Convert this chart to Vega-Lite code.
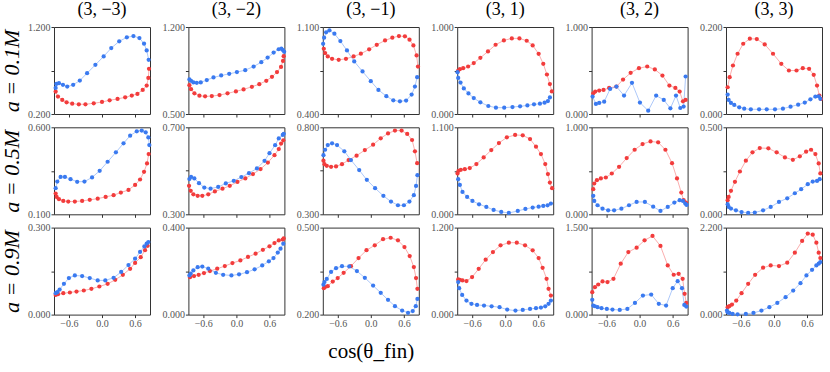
{
"$schema":"https://vega.github.io/schema/vega-lite/v6.json",
"padding":{"left":0,"top":0,"right":0,"bottom":0},
"background":"white",
"config":{
 "font":"Liberation Serif",
 "view":{"stroke":"#333","strokeWidth":1},
 "axis":{"grid":false,"domain":false,"tickColor":"#333","tickSize":3,"tickWidth":1,"labelFont":"Liberation Serif","labelFontSize":10,"labelColor":"#555","labelPadding":1,"labelOverlap":false,"titleFont":"Liberation Serif","titleFontSize":22,"titleFontWeight":"normal","titleFontStyle":"italic","titleColor":"#000","titlePadding":4},
 "title":{"font":"Liberation Serif","fontSize":18,"fontWeight":"normal","color":"#000","offset":3}
},
"data":{"values":[
{"p":"00","s":"r","x":-0.84,"y":0.458},{"p":"00","s":"r","x":-0.798,"y":0.4},{"p":"00","s":"r","x":-0.72,"y":0.362},{"p":"00","s":"r","x":-0.642,"y":0.335},{"p":"00","s":"r","x":-0.54,"y":0.319},{"p":"00","s":"r","x":-0.42,"y":0.312},{"p":"00","s":"r","x":-0.3,"y":0.312},{"p":"00","s":"r","x":-0.15,"y":0.323},{"p":"00","s":"r","x":0,"y":0.338},{"p":"00","s":"r","x":0.138,"y":0.358},{"p":"00","s":"r","x":0.282,"y":0.373},{"p":"00","s":"r","x":0.42,"y":0.392},{"p":"00","s":"r","x":0.54,"y":0.412},{"p":"00","s":"r","x":0.642,"y":0.431},{"p":"00","s":"r","x":0.738,"y":0.477},{"p":"00","s":"r","x":0.81,"y":0.527},{"p":"00","s":"r","x":0.84,"y":0.615},{"p":"00","s":"r","x":0.852,"y":0.719},
{"p":"00","s":"b","x":-0.84,"y":0.5},{"p":"00","s":"b","x":-0.828,"y":0.546},{"p":"00","s":"b","x":-0.78,"y":0.554},{"p":"00","s":"b","x":-0.708,"y":0.535},{"p":"00","s":"b","x":-0.63,"y":0.515},{"p":"00","s":"b","x":-0.522,"y":0.535},{"p":"00","s":"b","x":-0.402,"y":0.585},{"p":"00","s":"b","x":-0.27,"y":0.669},{"p":"00","s":"b","x":-0.12,"y":0.765},{"p":"00","s":"b","x":0.03,"y":0.862},{"p":"00","s":"b","x":0.168,"y":0.958},{"p":"00","s":"b","x":0.312,"y":1.035},{"p":"00","s":"b","x":0.45,"y":1.081},{"p":"00","s":"b","x":0.57,"y":1.096},{"p":"00","s":"b","x":0.678,"y":1.073},{"p":"00","s":"b","x":0.762,"y":1.008},{"p":"00","s":"b","x":0.81,"y":0.931},{"p":"00","s":"b","x":0.846,"y":0.823},
{"p":"01","s":"r","x":-0.852,"y":0.732},{"p":"01","s":"r","x":-0.822,"y":0.7},{"p":"01","s":"r","x":-0.761,"y":0.666},{"p":"01","s":"r","x":-0.67,"y":0.647},{"p":"01","s":"r","x":-0.567,"y":0.642},{"p":"01","s":"r","x":-0.446,"y":0.644},{"p":"01","s":"r","x":-0.306,"y":0.652},{"p":"01","s":"r","x":-0.161,"y":0.666},{"p":"01","s":"r","x":-0.009,"y":0.682},{"p":"01","s":"r","x":0.13,"y":0.698},{"p":"01","s":"r","x":0.281,"y":0.719},{"p":"01","s":"r","x":0.415,"y":0.74},{"p":"01","s":"r","x":0.542,"y":0.767},{"p":"01","s":"r","x":0.645,"y":0.799},{"p":"01","s":"r","x":0.736,"y":0.837},{"p":"01","s":"r","x":0.809,"y":0.879},{"p":"01","s":"r","x":0.845,"y":0.927},{"p":"01","s":"r","x":0.857,"y":0.965},
{"p":"01","s":"b","x":-0.852,"y":0.778},{"p":"01","s":"b","x":-0.822,"y":0.767},{"p":"01","s":"b","x":-0.779,"y":0.754},{"p":"01","s":"b","x":-0.718,"y":0.751},{"p":"01","s":"b","x":-0.646,"y":0.754},{"p":"01","s":"b","x":-0.537,"y":0.773},{"p":"01","s":"b","x":-0.415,"y":0.794},{"p":"01","s":"b","x":-0.276,"y":0.81},{"p":"01","s":"b","x":-0.13,"y":0.823},{"p":"01","s":"b","x":0.009,"y":0.837},{"p":"01","s":"b","x":0.16,"y":0.853},{"p":"01","s":"b","x":0.312,"y":0.882},{"p":"01","s":"b","x":0.451,"y":0.917},{"p":"01","s":"b","x":0.566,"y":0.954},{"p":"01","s":"b","x":0.675,"y":0.994},{"p":"01","s":"b","x":0.766,"y":1.021},{"p":"01","s":"b","x":0.815,"y":1.026},{"p":"01","s":"b","x":0.845,"y":1.013},{"p":"01","s":"b","x":0.866,"y":1.0},
{"p":"02","s":"r","x":-0.852,"y":0.925},{"p":"02","s":"r","x":-0.828,"y":0.89},{"p":"02","s":"r","x":-0.78,"y":0.863},{"p":"02","s":"r","x":-0.702,"y":0.844},{"p":"02","s":"r","x":-0.582,"y":0.836},{"p":"02","s":"r","x":-0.45,"y":0.844},{"p":"02","s":"r","x":-0.312,"y":0.863},{"p":"02","s":"r","x":-0.18,"y":0.885},{"p":"02","s":"r","x":-0.03,"y":0.92},{"p":"02","s":"r","x":0.108,"y":0.957},{"p":"02","s":"r","x":0.258,"y":0.992},{"p":"02","s":"r","x":0.39,"y":1.014},{"p":"02","s":"r","x":0.51,"y":1.027},{"p":"02","s":"r","x":0.618,"y":1.025},{"p":"02","s":"r","x":0.702,"y":0.998},{"p":"02","s":"r","x":0.772,"y":0.952},{"p":"02","s":"r","x":0.83,"y":0.871},{"p":"02","s":"r","x":0.855,"y":0.782},
{"p":"02","s":"b","x":-0.864,"y":0.965},{"p":"02","s":"b","x":-0.846,"y":1.014},{"p":"02","s":"b","x":-0.81,"y":1.057},{"p":"02","s":"b","x":-0.75,"y":1.073},{"p":"02","s":"b","x":-0.66,"y":1.046},{"p":"02","s":"b","x":-0.552,"y":0.987},{"p":"02","s":"b","x":-0.432,"y":0.911},{"p":"02","s":"b","x":-0.3,"y":0.823},{"p":"02","s":"b","x":-0.15,"y":0.742},{"p":"02","s":"b","x":0,"y":0.664},{"p":"02","s":"b","x":0.138,"y":0.594},{"p":"02","s":"b","x":0.282,"y":0.543},{"p":"02","s":"b","x":0.408,"y":0.51},{"p":"02","s":"b","x":0.528,"y":0.502},{"p":"02","s":"b","x":0.64,"y":0.508},{"p":"02","s":"b","x":0.74,"y":0.556},{"p":"02","s":"b","x":0.8,"y":0.621},{"p":"02","s":"b","x":0.84,"y":0.696},
{"p":"03","s":"r","x":-0.852,"y":0.5},{"p":"03","s":"r","x":-0.822,"y":0.515},{"p":"03","s":"r","x":-0.762,"y":0.527},{"p":"03","s":"r","x":-0.672,"y":0.546},{"p":"03","s":"r","x":-0.57,"y":0.585},{"p":"03","s":"r","x":-0.45,"y":0.646},{"p":"03","s":"r","x":-0.312,"y":0.719},{"p":"03","s":"r","x":-0.174,"y":0.796},{"p":"03","s":"r","x":-0.024,"y":0.846},{"p":"03","s":"r","x":0.12,"y":0.869},{"p":"03","s":"r","x":0.258,"y":0.869},{"p":"03","s":"r","x":0.39,"y":0.842},{"p":"03","s":"r","x":0.498,"y":0.788},{"p":"03","s":"r","x":0.606,"y":0.692},{"p":"03","s":"r","x":0.69,"y":0.577},{"p":"03","s":"r","x":0.756,"y":0.454},{"p":"03","s":"r","x":0.81,"y":0.344},{"p":"03","s":"r","x":0.846,"y":0.26},
{"p":"03","s":"b","x":-0.864,"y":0.48},{"p":"03","s":"b","x":-0.852,"y":0.415},{"p":"03","s":"b","x":-0.81,"y":0.362},{"p":"03","s":"b","x":-0.75,"y":0.294},{"p":"03","s":"b","x":-0.666,"y":0.237},{"p":"03","s":"b","x":-0.57,"y":0.183},{"p":"03","s":"b","x":-0.45,"y":0.134},{"p":"03","s":"b","x":-0.306,"y":0.092},{"p":"03","s":"b","x":-0.168,"y":0.073},{"p":"03","s":"b","x":-0.018,"y":0.073},{"p":"03","s":"b","x":0.132,"y":0.08},{"p":"03","s":"b","x":0.27,"y":0.088},{"p":"03","s":"b","x":0.402,"y":0.099},{"p":"03","s":"b","x":0.522,"y":0.111},{"p":"03","s":"b","x":0.63,"y":0.118},{"p":"03","s":"b","x":0.714,"y":0.13},{"p":"03","s":"b","x":0.774,"y":0.149},{"p":"03","s":"b","x":0.81,"y":0.19},
{"p":"04","s":"r","x":-0.84,"y":0.238},{"p":"04","s":"r","x":-0.804,"y":0.258},{"p":"04","s":"r","x":-0.732,"y":0.269},{"p":"04","s":"r","x":-0.654,"y":0.277},{"p":"04","s":"r","x":-0.552,"y":0.3},{"p":"04","s":"r","x":-0.42,"y":0.315},{"p":"04","s":"r","x":-0.3,"y":0.396},{"p":"04","s":"r","x":-0.162,"y":0.473},{"p":"04","s":"r","x":-0.012,"y":0.527},{"p":"04","s":"r","x":0.138,"y":0.546},{"p":"04","s":"r","x":0.276,"y":0.512},{"p":"04","s":"r","x":0.414,"y":0.442},{"p":"04","s":"r","x":0.54,"y":0.327},{"p":"04","s":"r","x":0.648,"y":0.3},{"p":"04","s":"r","x":0.726,"y":0.258},{"p":"04","s":"r","x":0.786,"y":0.146},{"p":"04","s":"r","x":0.834,"y":0.162},
{"p":"04","s":"b","x":-0.852,"y":0.2},{"p":"04","s":"b","x":-0.792,"y":0.115},{"p":"04","s":"b","x":-0.732,"y":0.127},{"p":"04","s":"b","x":-0.642,"y":0.142},{"p":"04","s":"b","x":-0.534,"y":0.288},{"p":"04","s":"b","x":-0.42,"y":0.315},{"p":"04","s":"b","x":-0.282,"y":0.212},{"p":"04","s":"b","x":-0.138,"y":0.358},{"p":"04","s":"b","x":0.006,"y":0.131},{"p":"04","s":"b","x":0.156,"y":0.038},{"p":"04","s":"b","x":0.3,"y":0.212},{"p":"04","s":"b","x":0.438,"y":0.162},{"p":"04","s":"b","x":0.558,"y":0.065},{"p":"04","s":"b","x":0.66,"y":0.212},{"p":"04","s":"b","x":0.738,"y":0.069},{"p":"04","s":"b","x":0.798,"y":0.085},{"p":"04","s":"b","x":0.834,"y":0.431},
{"p":"05","s":"r","x":-0.84,"y":0.0615},{"p":"05","s":"r","x":-0.804,"y":0.0846},{"p":"05","s":"r","x":-0.744,"y":0.1115},{"p":"05","s":"r","x":-0.66,"y":0.1385},{"p":"05","s":"r","x":-0.558,"y":0.1615},{"p":"05","s":"r","x":-0.438,"y":0.1731},{"p":"05","s":"r","x":-0.312,"y":0.1723},{"p":"05","s":"r","x":-0.168,"y":0.16},{"p":"05","s":"r","x":-0.018,"y":0.1385},{"p":"05","s":"r","x":0.132,"y":0.1154},{"p":"05","s":"r","x":0.27,"y":0.1},{"p":"05","s":"r","x":0.408,"y":0.1},{"p":"05","s":"r","x":0.522,"y":0.1054},{"p":"05","s":"r","x":0.636,"y":0.1038},{"p":"05","s":"r","x":0.72,"y":0.09},{"p":"05","s":"r","x":0.78,"y":0.0654},{"p":"05","s":"r","x":0.822,"y":0.0423},{"p":"05","s":"r","x":0.852,"y":0.0346},
{"p":"05","s":"b","x":-0.84,"y":0.0446},{"p":"05","s":"b","x":-0.822,"y":0.0323},{"p":"05","s":"b","x":-0.78,"y":0.0254},{"p":"05","s":"b","x":-0.72,"y":0.0208},{"p":"05","s":"b","x":-0.63,"y":0.0154},{"p":"05","s":"b","x":-0.54,"y":0.0123},{"p":"05","s":"b","x":-0.42,"y":0.0108},{"p":"05","s":"b","x":-0.27,"y":0.0108},{"p":"05","s":"b","x":-0.132,"y":0.0108},{"p":"05","s":"b","x":0.018,"y":0.0108},{"p":"05","s":"b","x":0.162,"y":0.0123},{"p":"05","s":"b","x":0.3,"y":0.0169},{"p":"05","s":"b","x":0.438,"y":0.0215},{"p":"05","s":"b","x":0.558,"y":0.0262},{"p":"05","s":"b","x":0.66,"y":0.0338},{"p":"05","s":"b","x":0.75,"y":0.04},{"p":"05","s":"b","x":0.81,"y":0.0408},{"p":"05","s":"b","x":0.84,"y":0.035},
{"p":"10","s":"r","x":-0.84,"y":0.219},{"p":"10","s":"r","x":-0.822,"y":0.2},{"p":"10","s":"r","x":-0.78,"y":0.187},{"p":"10","s":"r","x":-0.702,"y":0.177},{"p":"10","s":"r","x":-0.612,"y":0.173},{"p":"10","s":"r","x":-0.492,"y":0.173},{"p":"10","s":"r","x":-0.36,"y":0.177},{"p":"10","s":"r","x":-0.222,"y":0.183},{"p":"10","s":"r","x":-0.078,"y":0.19},{"p":"10","s":"r","x":0.066,"y":0.2},{"p":"10","s":"r","x":0.21,"y":0.21},{"p":"10","s":"r","x":0.342,"y":0.225},{"p":"10","s":"r","x":0.48,"y":0.24},{"p":"10","s":"r","x":0.6,"y":0.269},{"p":"10","s":"r","x":0.69,"y":0.3},{"p":"10","s":"r","x":0.762,"y":0.344},{"p":"10","s":"r","x":0.816,"y":0.392},{"p":"10","s":"r","x":0.846,"y":0.446},
{"p":"10","s":"b","x":-0.84,"y":0.25},{"p":"10","s":"b","x":-0.81,"y":0.288},{"p":"10","s":"b","x":-0.75,"y":0.315},{"p":"10","s":"b","x":-0.672,"y":0.315},{"p":"10","s":"b","x":-0.57,"y":0.302},{"p":"10","s":"b","x":-0.45,"y":0.287},{"p":"10","s":"b","x":-0.318,"y":0.288},{"p":"10","s":"b","x":-0.18,"y":0.312},{"p":"10","s":"b","x":-0.042,"y":0.35},{"p":"10","s":"b","x":0.102,"y":0.402},{"p":"10","s":"b","x":0.252,"y":0.456},{"p":"10","s":"b","x":0.39,"y":0.508},{"p":"10","s":"b","x":0.51,"y":0.552},{"p":"10","s":"b","x":0.63,"y":0.577},{"p":"10","s":"b","x":0.72,"y":0.581},{"p":"10","s":"b","x":0.792,"y":0.571},{"p":"10","s":"b","x":0.84,"y":0.542},{"p":"10","s":"b","x":0.858,"y":0.498},
{"p":"11","s":"r","x":-0.858,"y":0.431},{"p":"11","s":"r","x":-0.828,"y":0.408},{"p":"11","s":"r","x":-0.78,"y":0.392},{"p":"11","s":"r","x":-0.702,"y":0.385},{"p":"11","s":"r","x":-0.618,"y":0.385},{"p":"11","s":"r","x":-0.51,"y":0.392},{"p":"11","s":"r","x":-0.39,"y":0.405},{"p":"11","s":"r","x":-0.252,"y":0.418},{"p":"11","s":"r","x":-0.12,"y":0.431},{"p":"11","s":"r","x":0.018,"y":0.449},{"p":"11","s":"r","x":0.162,"y":0.465},{"p":"11","s":"r","x":0.3,"y":0.485},{"p":"11","s":"r","x":0.438,"y":0.508},{"p":"11","s":"r","x":0.57,"y":0.538},{"p":"11","s":"r","x":0.69,"y":0.572},{"p":"11","s":"r","x":0.768,"y":0.6},{"p":"11","s":"r","x":0.81,"y":0.625},{"p":"11","s":"r","x":0.85,"y":0.64},
{"p":"11","s":"b","x":-0.852,"y":0.462},{"p":"11","s":"b","x":-0.822,"y":0.472},{"p":"11","s":"b","x":-0.762,"y":0.465},{"p":"11","s":"b","x":-0.678,"y":0.443},{"p":"11","s":"b","x":-0.582,"y":0.423},{"p":"11","s":"b","x":-0.468,"y":0.418},{"p":"11","s":"b","x":-0.33,"y":0.426},{"p":"11","s":"b","x":-0.192,"y":0.442},{"p":"11","s":"b","x":-0.048,"y":0.454},{"p":"11","s":"b","x":0.09,"y":0.471},{"p":"11","s":"b","x":0.228,"y":0.489},{"p":"11","s":"b","x":0.372,"y":0.511},{"p":"11","s":"b","x":0.51,"y":0.546},{"p":"11","s":"b","x":0.6,"y":0.581},{"p":"11","s":"b","x":0.702,"y":0.618},{"p":"11","s":"b","x":0.768,"y":0.649},{"p":"11","s":"b","x":0.84,"y":0.665},{"p":"11","s":"b","x":0.858,"y":0.67},
{"p":"12","s":"r","x":-0.858,"y":0.608},{"p":"12","s":"r","x":-0.84,"y":0.588},{"p":"12","s":"r","x":-0.798,"y":0.579},{"p":"12","s":"r","x":-0.72,"y":0.573},{"p":"12","s":"r","x":-0.63,"y":0.575},{"p":"12","s":"r","x":-0.522,"y":0.588},{"p":"12","s":"r","x":-0.402,"y":0.612},{"p":"12","s":"r","x":-0.258,"y":0.637},{"p":"12","s":"r","x":-0.108,"y":0.669},{"p":"12","s":"r","x":0.042,"y":0.7},{"p":"12","s":"r","x":0.18,"y":0.737},{"p":"12","s":"r","x":0.312,"y":0.765},{"p":"12","s":"r","x":0.438,"y":0.781},{"p":"12","s":"r","x":0.558,"y":0.781},{"p":"12","s":"r","x":0.66,"y":0.762},{"p":"12","s":"r","x":0.748,"y":0.727},{"p":"12","s":"r","x":0.8,"y":0.662},{"p":"12","s":"r","x":0.84,"y":0.594},
{"p":"12","s":"b","x":-0.858,"y":0.64},{"p":"12","s":"b","x":-0.828,"y":0.671},{"p":"12","s":"b","x":-0.78,"y":0.698},{"p":"12","s":"b","x":-0.702,"y":0.708},{"p":"12","s":"b","x":-0.612,"y":0.698},{"p":"12","s":"b","x":-0.48,"y":0.662},{"p":"12","s":"b","x":-0.36,"y":0.612},{"p":"12","s":"b","x":-0.21,"y":0.554},{"p":"12","s":"b","x":-0.072,"y":0.498},{"p":"12","s":"b","x":0.078,"y":0.45},{"p":"12","s":"b","x":0.228,"y":0.406},{"p":"12","s":"b","x":0.366,"y":0.373},{"p":"12","s":"b","x":0.492,"y":0.352},{"p":"12","s":"b","x":0.6,"y":0.352},{"p":"12","s":"b","x":0.7,"y":0.373},{"p":"12","s":"b","x":0.78,"y":0.41},{"p":"12","s":"b","x":0.82,"y":0.463},{"p":"12","s":"b","x":0.845,"y":0.525},
{"p":"13","s":"r","x":-0.864,"y":0.516},{"p":"13","s":"r","x":-0.846,"y":0.55},{"p":"13","s":"r","x":-0.804,"y":0.563},{"p":"13","s":"r","x":-0.732,"y":0.571},{"p":"13","s":"r","x":-0.642,"y":0.584},{"p":"13","s":"r","x":-0.522,"y":0.635},{"p":"13","s":"r","x":-0.39,"y":0.719},{"p":"13","s":"r","x":-0.252,"y":0.812},{"p":"13","s":"r","x":-0.114,"y":0.901},{"p":"13","s":"r","x":0.03,"y":0.973},{"p":"13","s":"r","x":0.18,"y":1.003},{"p":"13","s":"r","x":0.318,"y":0.999},{"p":"13","s":"r","x":0.45,"y":0.952},{"p":"13","s":"r","x":0.558,"y":0.855},{"p":"13","s":"r","x":0.648,"y":0.762},{"p":"13","s":"r","x":0.726,"y":0.635},{"p":"13","s":"r","x":0.774,"y":0.508},{"p":"13","s":"r","x":0.81,"y":0.402},{"p":"13","s":"r","x":0.85,"y":0.33},
{"p":"13","s":"b","x":-0.852,"y":0.444},{"p":"13","s":"b","x":-0.822,"y":0.372},{"p":"13","s":"b","x":-0.774,"y":0.283},{"p":"13","s":"b","x":-0.69,"y":0.22},{"p":"13","s":"b","x":-0.594,"y":0.169},{"p":"13","s":"b","x":-0.474,"y":0.127},{"p":"13","s":"b","x":-0.342,"y":0.093},{"p":"13","s":"b","x":-0.21,"y":0.055},{"p":"13","s":"b","x":-0.072,"y":0.03},{"p":"13","s":"b","x":0.066,"y":0.017},{"p":"13","s":"b","x":0.228,"y":0.042},{"p":"13","s":"b","x":0.366,"y":0.068},{"p":"13","s":"b","x":0.498,"y":0.085},{"p":"13","s":"b","x":0.606,"y":0.097},{"p":"13","s":"b","x":0.69,"y":0.106},{"p":"13","s":"b","x":0.768,"y":0.114},{"p":"13","s":"b","x":0.828,"y":0.135},
{"p":"14","s":"r","x":-0.84,"y":0.288},{"p":"14","s":"r","x":-0.822,"y":0.354},{"p":"14","s":"r","x":-0.774,"y":0.392},{"p":"14","s":"r","x":-0.702,"y":0.412},{"p":"14","s":"r","x":-0.612,"y":0.423},{"p":"14","s":"r","x":-0.504,"y":0.469},{"p":"14","s":"r","x":-0.372,"y":0.546},{"p":"14","s":"r","x":-0.234,"y":0.646},{"p":"14","s":"r","x":-0.09,"y":0.742},{"p":"14","s":"r","x":0.054,"y":0.808},{"p":"14","s":"r","x":0.198,"y":0.838},{"p":"14","s":"r","x":0.336,"y":0.827},{"p":"14","s":"r","x":0.468,"y":0.742},{"p":"14","s":"r","x":0.588,"y":0.588},{"p":"14","s":"r","x":0.678,"y":0.412},{"p":"14","s":"r","x":0.756,"y":0.25},{"p":"14","s":"r","x":0.798,"y":0.162},{"p":"14","s":"r","x":0.84,"y":0.135},
{"p":"14","s":"b","x":-0.84,"y":0.212},{"p":"14","s":"b","x":-0.822,"y":0.154},{"p":"14","s":"b","x":-0.762,"y":0.104},{"p":"14","s":"b","x":-0.672,"y":0.065},{"p":"14","s":"b","x":-0.57,"y":0.046},{"p":"14","s":"b","x":-0.462,"y":0.046},{"p":"14","s":"b","x":-0.33,"y":0.065},{"p":"14","s":"b","x":-0.192,"y":0.104},{"p":"14","s":"b","x":-0.054,"y":0.142},{"p":"14","s":"b","x":0.096,"y":0.142},{"p":"14","s":"b","x":0.246,"y":0.088},{"p":"14","s":"b","x":0.378,"y":0.038},{"p":"14","s":"b","x":0.51,"y":0.085},{"p":"14","s":"b","x":0.63,"y":0.135},{"p":"14","s":"b","x":0.726,"y":0.162},{"p":"14","s":"b","x":0.786,"y":0.154},{"p":"14","s":"b","x":0.828,"y":0.123},{"p":"14","s":"b","x":0.852,"y":0.108},
{"p":"15","s":"r","x":-0.84,"y":0.081},{"p":"15","s":"r","x":-0.822,"y":0.1},{"p":"15","s":"r","x":-0.78,"y":0.135},{"p":"15","s":"r","x":-0.708,"y":0.187},{"p":"15","s":"r","x":-0.618,"y":0.246},{"p":"15","s":"r","x":-0.51,"y":0.308},{"p":"15","s":"r","x":-0.39,"y":0.356},{"p":"15","s":"r","x":-0.258,"y":0.381},{"p":"15","s":"r","x":-0.102,"y":0.379},{"p":"15","s":"r","x":0.048,"y":0.356},{"p":"15","s":"r","x":0.198,"y":0.327},{"p":"15","s":"r","x":0.342,"y":0.313},{"p":"15","s":"r","x":0.468,"y":0.333},{"p":"15","s":"r","x":0.582,"y":0.36},{"p":"15","s":"r","x":0.672,"y":0.371},{"p":"15","s":"r","x":0.75,"y":0.346},{"p":"15","s":"r","x":0.81,"y":0.292},{"p":"15","s":"r","x":0.84,"y":0.235},
{"p":"15","s":"b","x":-0.84,"y":0.058},{"p":"15","s":"b","x":-0.822,"y":0.042},{"p":"15","s":"b","x":-0.78,"y":0.033},{"p":"15","s":"b","x":-0.69,"y":0.023},{"p":"15","s":"b","x":-0.588,"y":0.013},{"p":"15","s":"b","x":-0.468,"y":0.008},{"p":"15","s":"b","x":-0.348,"y":0.01},{"p":"15","s":"b","x":-0.198,"y":0.023},{"p":"15","s":"b","x":-0.06,"y":0.042},{"p":"15","s":"b","x":0.09,"y":0.071},{"p":"15","s":"b","x":0.24,"y":0.092},{"p":"15","s":"b","x":0.378,"y":0.121},{"p":"15","s":"b","x":0.492,"y":0.144},{"p":"15","s":"b","x":0.612,"y":0.173},{"p":"15","s":"b","x":0.702,"y":0.188},{"p":"15","s":"b","x":0.78,"y":0.192},{"p":"15","s":"b","x":0.828,"y":0.202},
{"p":"20","s":"r","x":-0.84,"y":0.068},{"p":"20","s":"r","x":-0.798,"y":0.0704},{"p":"20","s":"r","x":-0.702,"y":0.0738},{"p":"20","s":"r","x":-0.582,"y":0.0762},{"p":"20","s":"r","x":-0.462,"y":0.0796},{"p":"20","s":"r","x":-0.33,"y":0.0831},{"p":"20","s":"r","x":-0.192,"y":0.0888},{"p":"20","s":"r","x":-0.048,"y":0.0969},{"p":"20","s":"r","x":0.102,"y":0.106},{"p":"20","s":"r","x":0.24,"y":0.12},{"p":"20","s":"r","x":0.378,"y":0.137},{"p":"20","s":"r","x":0.51,"y":0.158},{"p":"20","s":"r","x":0.6,"y":0.178},{"p":"20","s":"r","x":0.702,"y":0.198},{"p":"20","s":"r","x":0.78,"y":0.222},{"p":"20","s":"r","x":0.828,"y":0.237},
{"p":"20","s":"b","x":-0.84,"y":0.0738},{"p":"20","s":"b","x":-0.81,"y":0.0773},{"p":"20","s":"b","x":-0.768,"y":0.0865},{"p":"20","s":"b","x":-0.69,"y":0.106},{"p":"20","s":"b","x":-0.6,"y":0.126},{"p":"20","s":"b","x":-0.492,"y":0.135},{"p":"20","s":"b","x":-0.36,"y":0.133},{"p":"20","s":"b","x":-0.222,"y":0.126},{"p":"20","s":"b","x":-0.078,"y":0.118},{"p":"20","s":"b","x":0.06,"y":0.118},{"p":"20","s":"b","x":0.21,"y":0.127},{"p":"20","s":"b","x":0.348,"y":0.147},{"p":"20","s":"b","x":0.48,"y":0.171},{"p":"20","s":"b","x":0.6,"y":0.193},{"p":"20","s":"b","x":0.69,"y":0.216},{"p":"20","s":"b","x":0.768,"y":0.235},{"p":"20","s":"b","x":0.81,"y":0.245},{"p":"20","s":"b","x":0.84,"y":0.25},
{"p":"21","s":"r","x":-0.84,"y":0.172},{"p":"21","s":"r","x":-0.768,"y":0.177},{"p":"21","s":"r","x":-0.684,"y":0.183},{"p":"21","s":"r","x":-0.588,"y":0.191},{"p":"21","s":"r","x":-0.48,"y":0.2},{"p":"21","s":"r","x":-0.348,"y":0.211},{"p":"21","s":"r","x":-0.21,"y":0.223},{"p":"21","s":"r","x":-0.072,"y":0.237},{"p":"21","s":"r","x":0.072,"y":0.249},{"p":"21","s":"r","x":0.21,"y":0.265},{"p":"21","s":"r","x":0.348,"y":0.28},{"p":"21","s":"r","x":0.48,"y":0.298},{"p":"21","s":"r","x":0.6,"y":0.314},{"p":"21","s":"r","x":0.69,"y":0.329},{"p":"21","s":"r","x":0.768,"y":0.341},{"p":"21","s":"r","x":0.84,"y":0.345},{"p":"21","s":"r","x":0.858,"y":0.35},
{"p":"21","s":"b","x":-0.852,"y":0.18},{"p":"21","s":"b","x":-0.828,"y":0.188},{"p":"21","s":"b","x":-0.78,"y":0.203},{"p":"21","s":"b","x":-0.702,"y":0.218},{"p":"21","s":"b","x":-0.618,"y":0.221},{"p":"21","s":"b","x":-0.51,"y":0.211},{"p":"21","s":"b","x":-0.372,"y":0.192},{"p":"21","s":"b","x":-0.24,"y":0.183},{"p":"21","s":"b","x":-0.09,"y":0.18},{"p":"21","s":"b","x":0.048,"y":0.185},{"p":"21","s":"b","x":0.192,"y":0.195},{"p":"21","s":"b","x":0.33,"y":0.208},{"p":"21","s":"b","x":0.468,"y":0.226},{"p":"21","s":"b","x":0.588,"y":0.245},{"p":"21","s":"b","x":0.672,"y":0.26},{"p":"21","s":"b","x":0.75,"y":0.285},{"p":"21","s":"b","x":0.8,"y":0.303},{"p":"21","s":"b","x":0.85,"y":0.326},
{"p":"22","s":"r","x":-0.852,"y":0.291},{"p":"22","s":"r","x":-0.828,"y":0.295},{"p":"22","s":"r","x":-0.78,"y":0.298},{"p":"22","s":"r","x":-0.69,"y":0.314},{"p":"22","s":"r","x":-0.6,"y":0.326},{"p":"22","s":"r","x":-0.492,"y":0.344},{"p":"22","s":"r","x":-0.36,"y":0.367},{"p":"22","s":"r","x":-0.222,"y":0.395},{"p":"22","s":"r","x":-0.078,"y":0.422},{"p":"22","s":"r","x":0.072,"y":0.439},{"p":"22","s":"r","x":0.222,"y":0.46},{"p":"22","s":"r","x":0.36,"y":0.465},{"p":"22","s":"r","x":0.492,"y":0.456},{"p":"22","s":"r","x":0.61,"y":0.433},{"p":"22","s":"r","x":0.705,"y":0.402},{"p":"22","s":"r","x":0.78,"y":0.364},{"p":"22","s":"r","x":0.82,"y":0.326},{"p":"22","s":"r","x":0.845,"y":0.289},
{"p":"22","s":"b","x":-0.858,"y":0.303},{"p":"22","s":"b","x":-0.84,"y":0.312},{"p":"22","s":"b","x":-0.798,"y":0.323},{"p":"22","s":"b","x":-0.72,"y":0.347},{"p":"22","s":"b","x":-0.63,"y":0.36},{"p":"22","s":"b","x":-0.522,"y":0.367},{"p":"22","s":"b","x":-0.39,"y":0.366},{"p":"22","s":"b","x":-0.252,"y":0.35},{"p":"22","s":"b","x":-0.108,"y":0.327},{"p":"22","s":"b","x":0.042,"y":0.3},{"p":"22","s":"b","x":0.18,"y":0.275},{"p":"22","s":"b","x":0.312,"y":0.251},{"p":"22","s":"b","x":0.438,"y":0.229},{"p":"22","s":"b","x":0.568,"y":0.214},{"p":"22","s":"b","x":0.675,"y":0.206},{"p":"22","s":"b","x":0.76,"y":0.212},{"p":"22","s":"b","x":0.815,"y":0.229},{"p":"22","s":"b","x":0.845,"y":0.254},
{"p":"23","s":"r","x":-0.852,"y":0.485},{"p":"23","s":"r","x":-0.822,"y":0.48},{"p":"23","s":"r","x":-0.774,"y":0.471},{"p":"23","s":"r","x":-0.702,"y":0.462},{"p":"23","s":"r","x":-0.6,"y":0.517},{"p":"23","s":"r","x":-0.48,"y":0.632},{"p":"23","s":"r","x":-0.354,"y":0.757},{"p":"23","s":"r","x":-0.222,"y":0.863},{"p":"23","s":"r","x":-0.084,"y":0.955},{"p":"23","s":"r","x":0.066,"y":0.992},{"p":"23","s":"r","x":0.21,"y":0.992},{"p":"23","s":"r","x":0.36,"y":0.955},{"p":"23","s":"r","x":0.498,"y":0.886},{"p":"23","s":"r","x":0.606,"y":0.78},{"p":"23","s":"r","x":0.678,"y":0.646},{"p":"23","s":"r","x":0.75,"y":0.494},{"p":"23","s":"r","x":0.786,"y":0.355},{"p":"23","s":"r","x":0.828,"y":0.263},
{"p":"23","s":"b","x":-0.852,"y":0.448},{"p":"23","s":"b","x":-0.834,"y":0.365},{"p":"23","s":"b","x":-0.78,"y":0.272},{"p":"23","s":"b","x":-0.702,"y":0.194},{"p":"23","s":"b","x":-0.612,"y":0.148},{"p":"23","s":"b","x":-0.51,"y":0.134},{"p":"23","s":"b","x":-0.384,"y":0.125},{"p":"23","s":"b","x":-0.246,"y":0.115},{"p":"23","s":"b","x":-0.102,"y":0.102},{"p":"23","s":"b","x":0.036,"y":0.069},{"p":"23","s":"b","x":0.186,"y":0.055},{"p":"23","s":"b","x":0.318,"y":0.065},{"p":"23","s":"b","x":0.45,"y":0.078},{"p":"23","s":"b","x":0.558,"y":0.088},{"p":"23","s":"b","x":0.648,"y":0.097},{"p":"23","s":"b","x":0.726,"y":0.115},{"p":"23","s":"b","x":0.786,"y":0.148},{"p":"23","s":"b","x":0.828,"y":0.194},
{"p":"24","s":"r","x":-0.858,"y":0.387},{"p":"24","s":"r","x":-0.81,"y":0.473},{"p":"24","s":"r","x":-0.75,"y":0.519},{"p":"24","s":"r","x":-0.672,"y":0.571},{"p":"24","s":"r","x":-0.582,"y":0.56},{"p":"24","s":"r","x":-0.474,"y":0.617},{"p":"24","s":"r","x":-0.342,"y":0.877},{"p":"24","s":"r","x":-0.204,"y":1.079},{"p":"24","s":"r","x":-0.054,"y":1.154},{"p":"24","s":"r","x":0.09,"y":1.281},{"p":"24","s":"r","x":0.234,"y":1.356},{"p":"24","s":"r","x":0.378,"y":1.183},{"p":"24","s":"r","x":0.51,"y":0.848},{"p":"24","s":"r","x":0.618,"y":0.687},{"p":"24","s":"r","x":0.708,"y":0.704},{"p":"24","s":"r","x":0.78,"y":0.617},{"p":"24","s":"r","x":0.816,"y":0.358},{"p":"24","s":"r","x":0.846,"y":0.202},
{"p":"24","s":"b","x":-0.858,"y":0.254},{"p":"24","s":"b","x":-0.84,"y":0.156},{"p":"24","s":"b","x":-0.81,"y":0.144},{"p":"24","s":"b","x":-0.762,"y":0.127},{"p":"24","s":"b","x":-0.69,"y":0.11},{"p":"24","s":"b","x":-0.594,"y":0.098},{"p":"24","s":"b","x":-0.492,"y":0.087},{"p":"24","s":"b","x":-0.36,"y":0.081},{"p":"24","s":"b","x":-0.222,"y":0.098},{"p":"24","s":"b","x":-0.084,"y":0.202},{"p":"24","s":"b","x":0.06,"y":0.329},{"p":"24","s":"b","x":0.21,"y":0.346},{"p":"24","s":"b","x":0.348,"y":0.185},{"p":"24","s":"b","x":0.48,"y":0.156},{"p":"24","s":"b","x":0.6,"y":0.456},{"p":"24","s":"b","x":0.69,"y":0.577},{"p":"24","s":"b","x":0.768,"y":0.456},{"p":"24","s":"b","x":0.81,"y":0.167},{"p":"24","s":"b","x":0.846,"y":0.138},
{"p":"25","s":"r","x":-0.84,"y":0.186},{"p":"25","s":"r","x":-0.81,"y":0.212},{"p":"25","s":"r","x":-0.762,"y":0.254},{"p":"25","s":"r","x":-0.684,"y":0.355},{"p":"25","s":"r","x":-0.588,"y":0.542},{"p":"25","s":"r","x":-0.468,"y":0.778},{"p":"25","s":"r","x":-0.342,"y":1.007},{"p":"25","s":"r","x":-0.198,"y":1.185},{"p":"25","s":"r","x":-0.06,"y":1.244},{"p":"25","s":"r","x":0.09,"y":1.227},{"p":"25","s":"r","x":0.24,"y":1.312},{"p":"25","s":"r","x":0.378,"y":1.565},{"p":"25","s":"r","x":0.51,"y":1.862},{"p":"25","s":"r","x":0.612,"y":2.048},{"p":"25","s":"r","x":0.702,"y":2.022},{"p":"25","s":"r","x":0.768,"y":1.819},{"p":"25","s":"r","x":0.81,"y":1.565},{"p":"25","s":"r","x":0.84,"y":1.43},
{"p":"25","s":"b","x":-0.852,"y":0.102},{"p":"25","s":"b","x":-0.84,"y":0.059},{"p":"25","s":"b","x":-0.81,"y":0.042},{"p":"25","s":"b","x":-0.75,"y":0.017},{"p":"25","s":"b","x":-0.66,"y":0.008},{"p":"25","s":"b","x":-0.51,"y":0.017},{"p":"25","s":"b","x":-0.372,"y":0.042},{"p":"25","s":"b","x":-0.228,"y":0.102},{"p":"25","s":"b","x":-0.084,"y":0.186},{"p":"25","s":"b","x":0.06,"y":0.296},{"p":"25","s":"b","x":0.21,"y":0.44},{"p":"25","s":"b","x":0.348,"y":0.609},{"p":"25","s":"b","x":0.48,"y":0.795},{"p":"25","s":"b","x":0.588,"y":0.99},{"p":"25","s":"b","x":0.69,"y":1.134},{"p":"25","s":"b","x":0.768,"y":1.244},{"p":"25","s":"b","x":0.81,"y":1.286},{"p":"25","s":"b","x":0.84,"y":1.329}
]},
"columns":6,
"spacing":{"row":13.3,"column":38.4},
"bounds":"flush",
"concat":[
 {"width":96,"height":87,"title":"(3, −3)","transform":[{"filter":"datum.p=='00'"}],"encoding":{"x":{"field":"x","type":"quantitative","scale":{"domain":[-0.87,0.87],"nice":false,"zero":false},"axis":{"values":[-0.6,0,0.6],"labels":false,"title":null}},"y":{"field":"y","type":"quantitative","scale":{"domain":[0.2,1.2],"nice":false,"zero":false},"axis":{"values":[0.2,0.7,1.2],"format":".3f","labelExpr":"datum.index==0.5?'':datum.label","title":"a = 0.1M"}},"color":{"field":"s","type":"nominal","scale":{"domain":["r","b"],"range":["#f23c3c","#3a7af0"]},"legend":null}},"layer":[{"mark":{"type":"line","strokeWidth":0.7,"opacity":0.6}},{"mark":{"type":"circle","size":18,"opacity":1}}]},
 {"width":96,"height":87,"title":"(3, −2)","transform":[{"filter":"datum.p=='01'"}],"encoding":{"x":{"field":"x","type":"quantitative","scale":{"domain":[-0.87,0.87],"nice":false,"zero":false},"axis":{"values":[-0.6,0,0.6],"labels":false,"title":null}},"y":{"field":"y","type":"quantitative","scale":{"domain":[0.5,1.2],"nice":false,"zero":false},"axis":{"values":[0.5,0.85,1.2],"format":".3f","labelExpr":"datum.index==0.5?'':datum.label","title":null}},"color":{"field":"s","type":"nominal","scale":{"domain":["r","b"],"range":["#f23c3c","#3a7af0"]},"legend":null}},"layer":[{"mark":{"type":"line","strokeWidth":0.7,"opacity":0.6}},{"mark":{"type":"circle","size":18,"opacity":1}}]},
 {"width":96,"height":87,"title":"(3, −1)","transform":[{"filter":"datum.p=='02'"}],"encoding":{"x":{"field":"x","type":"quantitative","scale":{"domain":[-0.87,0.87],"nice":false,"zero":false},"axis":{"values":[-0.6,0,0.6],"labels":false,"title":null}},"y":{"field":"y","type":"quantitative","scale":{"domain":[0.4,1.1],"nice":false,"zero":false},"axis":{"values":[0.4,0.75,1.1],"format":".3f","labelExpr":"datum.index==0.5?'':datum.label","title":null}},"color":{"field":"s","type":"nominal","scale":{"domain":["r","b"],"range":["#f23c3c","#3a7af0"]},"legend":null}},"layer":[{"mark":{"type":"line","strokeWidth":0.7,"opacity":0.6}},{"mark":{"type":"circle","size":18,"opacity":1}}]},
 {"width":96,"height":87,"title":"(3, 1)","transform":[{"filter":"datum.p=='03'"}],"encoding":{"x":{"field":"x","type":"quantitative","scale":{"domain":[-0.87,0.87],"nice":false,"zero":false},"axis":{"values":[-0.6,0,0.6],"labels":false,"title":null}},"y":{"field":"y","type":"quantitative","scale":{"domain":[0,1],"nice":false,"zero":false},"axis":{"values":[0,0.5,1],"format":".3f","labelExpr":"datum.index==0.5?'':datum.label","title":null}},"color":{"field":"s","type":"nominal","scale":{"domain":["r","b"],"range":["#f23c3c","#3a7af0"]},"legend":null}},"layer":[{"mark":{"type":"line","strokeWidth":0.7,"opacity":0.6}},{"mark":{"type":"circle","size":18,"opacity":1}}]},
 {"width":96,"height":87,"title":"(3, 2)","transform":[{"filter":"datum.p=='04'"}],"encoding":{"x":{"field":"x","type":"quantitative","scale":{"domain":[-0.87,0.87],"nice":false,"zero":false},"axis":{"values":[-0.6,0,0.6],"labels":false,"title":null}},"y":{"field":"y","type":"quantitative","scale":{"domain":[0,1],"nice":false,"zero":false},"axis":{"values":[0,0.5,1],"format":".3f","labelExpr":"datum.index==0.5?'':datum.label","title":null}},"color":{"field":"s","type":"nominal","scale":{"domain":["r","b"],"range":["#f23c3c","#3a7af0"]},"legend":null}},"layer":[{"mark":{"type":"line","strokeWidth":0.7,"opacity":0.6}},{"mark":{"type":"circle","size":18,"opacity":1}}]},
 {"width":96,"height":87,"title":"(3, 3)","transform":[{"filter":"datum.p=='05'"}],"encoding":{"x":{"field":"x","type":"quantitative","scale":{"domain":[-0.87,0.87],"nice":false,"zero":false},"axis":{"values":[-0.6,0,0.6],"labels":false,"title":null}},"y":{"field":"y","type":"quantitative","scale":{"domain":[0,0.2],"nice":false,"zero":false},"axis":{"values":[0,0.1,0.2],"format":".3f","labelExpr":"datum.index==0.5?'':datum.label","title":null}},"color":{"field":"s","type":"nominal","scale":{"domain":["r","b"],"range":["#f23c3c","#3a7af0"]},"legend":null}},"layer":[{"mark":{"type":"line","strokeWidth":0.7,"opacity":0.6}},{"mark":{"type":"circle","size":18,"opacity":1}}]},
 {"width":96,"height":87,"transform":[{"filter":"datum.p=='10'"}],"encoding":{"x":{"field":"x","type":"quantitative","scale":{"domain":[-0.87,0.87],"nice":false,"zero":false},"axis":{"values":[-0.6,0,0.6],"labels":false,"title":null}},"y":{"field":"y","type":"quantitative","scale":{"domain":[0.1,0.6],"nice":false,"zero":false},"axis":{"values":[0.1,0.35,0.6],"format":".3f","labelExpr":"datum.index==0.5?'':datum.label","title":"a = 0.5M"}},"color":{"field":"s","type":"nominal","scale":{"domain":["r","b"],"range":["#f23c3c","#3a7af0"]},"legend":null}},"layer":[{"mark":{"type":"line","strokeWidth":0.7,"opacity":0.6}},{"mark":{"type":"circle","size":18,"opacity":1}}]},
 {"width":96,"height":87,"transform":[{"filter":"datum.p=='11'"}],"encoding":{"x":{"field":"x","type":"quantitative","scale":{"domain":[-0.87,0.87],"nice":false,"zero":false},"axis":{"values":[-0.6,0,0.6],"labels":false,"title":null}},"y":{"field":"y","type":"quantitative","scale":{"domain":[0.3,0.7],"nice":false,"zero":false},"axis":{"values":[0.3,0.5,0.7],"format":".3f","labelExpr":"datum.index==0.5?'':datum.label","title":null}},"color":{"field":"s","type":"nominal","scale":{"domain":["r","b"],"range":["#f23c3c","#3a7af0"]},"legend":null}},"layer":[{"mark":{"type":"line","strokeWidth":0.7,"opacity":0.6}},{"mark":{"type":"circle","size":18,"opacity":1}}]},
 {"width":96,"height":87,"transform":[{"filter":"datum.p=='12'"}],"encoding":{"x":{"field":"x","type":"quantitative","scale":{"domain":[-0.87,0.87],"nice":false,"zero":false},"axis":{"values":[-0.6,0,0.6],"labels":false,"title":null}},"y":{"field":"y","type":"quantitative","scale":{"domain":[0.3,0.8],"nice":false,"zero":false},"axis":{"values":[0.3,0.55,0.8],"format":".3f","labelExpr":"datum.index==0.5?'':datum.label","title":null}},"color":{"field":"s","type":"nominal","scale":{"domain":["r","b"],"range":["#f23c3c","#3a7af0"]},"legend":null}},"layer":[{"mark":{"type":"line","strokeWidth":0.7,"opacity":0.6}},{"mark":{"type":"circle","size":18,"opacity":1}}]},
 {"width":96,"height":87,"transform":[{"filter":"datum.p=='13'"}],"encoding":{"x":{"field":"x","type":"quantitative","scale":{"domain":[-0.87,0.87],"nice":false,"zero":false},"axis":{"values":[-0.6,0,0.6],"labels":false,"title":null}},"y":{"field":"y","type":"quantitative","scale":{"domain":[0,1.1],"nice":false,"zero":false},"axis":{"values":[0,0.55,1.1],"format":".3f","labelExpr":"datum.index==0.5?'':datum.label","title":null}},"color":{"field":"s","type":"nominal","scale":{"domain":["r","b"],"range":["#f23c3c","#3a7af0"]},"legend":null}},"layer":[{"mark":{"type":"line","strokeWidth":0.7,"opacity":0.6}},{"mark":{"type":"circle","size":18,"opacity":1}}]},
 {"width":96,"height":87,"transform":[{"filter":"datum.p=='14'"}],"encoding":{"x":{"field":"x","type":"quantitative","scale":{"domain":[-0.87,0.87],"nice":false,"zero":false},"axis":{"values":[-0.6,0,0.6],"labels":false,"title":null}},"y":{"field":"y","type":"quantitative","scale":{"domain":[0,1],"nice":false,"zero":false},"axis":{"values":[0,0.5,1],"format":".3f","labelExpr":"datum.index==0.5?'':datum.label","title":null}},"color":{"field":"s","type":"nominal","scale":{"domain":["r","b"],"range":["#f23c3c","#3a7af0"]},"legend":null}},"layer":[{"mark":{"type":"line","strokeWidth":0.7,"opacity":0.6}},{"mark":{"type":"circle","size":18,"opacity":1}}]},
 {"width":96,"height":87,"transform":[{"filter":"datum.p=='15'"}],"encoding":{"x":{"field":"x","type":"quantitative","scale":{"domain":[-0.87,0.87],"nice":false,"zero":false},"axis":{"values":[-0.6,0,0.6],"labels":false,"title":null}},"y":{"field":"y","type":"quantitative","scale":{"domain":[0,0.5],"nice":false,"zero":false},"axis":{"values":[0,0.25,0.5],"format":".3f","labelExpr":"datum.index==0.5?'':datum.label","title":null}},"color":{"field":"s","type":"nominal","scale":{"domain":["r","b"],"range":["#f23c3c","#3a7af0"]},"legend":null}},"layer":[{"mark":{"type":"line","strokeWidth":0.7,"opacity":0.6}},{"mark":{"type":"circle","size":18,"opacity":1}}]},
 {"width":96,"height":87,"transform":[{"filter":"datum.p=='20'"}],"encoding":{"x":{"field":"x","type":"quantitative","scale":{"domain":[-0.87,0.87],"nice":false,"zero":false},"axis":{"values":[-0.6,0,0.6],"format":".1f","title":null}},"y":{"field":"y","type":"quantitative","scale":{"domain":[0,0.3],"nice":false,"zero":false},"axis":{"values":[0,0.15,0.3],"format":".3f","labelExpr":"datum.index==0.5?'':datum.label","title":"a = 0.9M"}},"color":{"field":"s","type":"nominal","scale":{"domain":["r","b"],"range":["#f23c3c","#3a7af0"]},"legend":null}},"layer":[{"mark":{"type":"line","strokeWidth":0.7,"opacity":0.6}},{"mark":{"type":"circle","size":18,"opacity":1}}]},
 {"width":96,"height":87,"transform":[{"filter":"datum.p=='21'"}],"encoding":{"x":{"field":"x","type":"quantitative","scale":{"domain":[-0.87,0.87],"nice":false,"zero":false},"axis":{"values":[-0.6,0,0.6],"format":".1f","title":null}},"y":{"field":"y","type":"quantitative","scale":{"domain":[0,0.4],"nice":false,"zero":false},"axis":{"values":[0,0.2,0.4],"format":".3f","labelExpr":"datum.index==0.5?'':datum.label","title":null}},"color":{"field":"s","type":"nominal","scale":{"domain":["r","b"],"range":["#f23c3c","#3a7af0"]},"legend":null}},"layer":[{"mark":{"type":"line","strokeWidth":0.7,"opacity":0.6}},{"mark":{"type":"circle","size":18,"opacity":1}}]},
 {"width":96,"height":87,"transform":[{"filter":"datum.p=='22'"}],"encoding":{"x":{"field":"x","type":"quantitative","scale":{"domain":[-0.87,0.87],"nice":false,"zero":false},"axis":{"values":[-0.6,0,0.6],"format":".1f","title":"cos(θ_fin)","titleFontStyle":"normal","titleFontSize":21,"titlePadding":12}},"y":{"field":"y","type":"quantitative","scale":{"domain":[0.2,0.5],"nice":false,"zero":false},"axis":{"values":[0.2,0.35,0.5],"format":".3f","labelExpr":"datum.index==0.5?'':datum.label","title":null}},"color":{"field":"s","type":"nominal","scale":{"domain":["r","b"],"range":["#f23c3c","#3a7af0"]},"legend":null}},"layer":[{"mark":{"type":"line","strokeWidth":0.7,"opacity":0.6}},{"mark":{"type":"circle","size":18,"opacity":1}}]},
 {"width":96,"height":87,"transform":[{"filter":"datum.p=='23'"}],"encoding":{"x":{"field":"x","type":"quantitative","scale":{"domain":[-0.87,0.87],"nice":false,"zero":false},"axis":{"values":[-0.6,0,0.6],"format":".1f","title":null}},"y":{"field":"y","type":"quantitative","scale":{"domain":[0,1.2],"nice":false,"zero":false},"axis":{"values":[0,0.6,1.2],"format":".3f","labelExpr":"datum.index==0.5?'':datum.label","title":null}},"color":{"field":"s","type":"nominal","scale":{"domain":["r","b"],"range":["#f23c3c","#3a7af0"]},"legend":null}},"layer":[{"mark":{"type":"line","strokeWidth":0.7,"opacity":0.6}},{"mark":{"type":"circle","size":18,"opacity":1}}]},
 {"width":96,"height":87,"transform":[{"filter":"datum.p=='24'"}],"encoding":{"x":{"field":"x","type":"quantitative","scale":{"domain":[-0.87,0.87],"nice":false,"zero":false},"axis":{"values":[-0.6,0,0.6],"format":".1f","title":null}},"y":{"field":"y","type":"quantitative","scale":{"domain":[0,1.5],"nice":false,"zero":false},"axis":{"values":[0,0.75,1.5],"format":".3f","labelExpr":"datum.index==0.5?'':datum.label","title":null}},"color":{"field":"s","type":"nominal","scale":{"domain":["r","b"],"range":["#f23c3c","#3a7af0"]},"legend":null}},"layer":[{"mark":{"type":"line","strokeWidth":0.7,"opacity":0.6}},{"mark":{"type":"circle","size":18,"opacity":1}}]},
 {"width":96,"height":87,"transform":[{"filter":"datum.p=='25'"}],"encoding":{"x":{"field":"x","type":"quantitative","scale":{"domain":[-0.87,0.87],"nice":false,"zero":false},"axis":{"values":[-0.6,0,0.6],"format":".1f","title":null}},"y":{"field":"y","type":"quantitative","scale":{"domain":[0,2.2],"nice":false,"zero":false},"axis":{"values":[0,1.1,2.2],"format":".3f","labelExpr":"datum.index==0.5?'':datum.label","title":null}},"color":{"field":"s","type":"nominal","scale":{"domain":["r","b"],"range":["#f23c3c","#3a7af0"]},"legend":null}},"layer":[{"mark":{"type":"line","strokeWidth":0.7,"opacity":0.6}},{"mark":{"type":"circle","size":18,"opacity":1}}]}
]
}
